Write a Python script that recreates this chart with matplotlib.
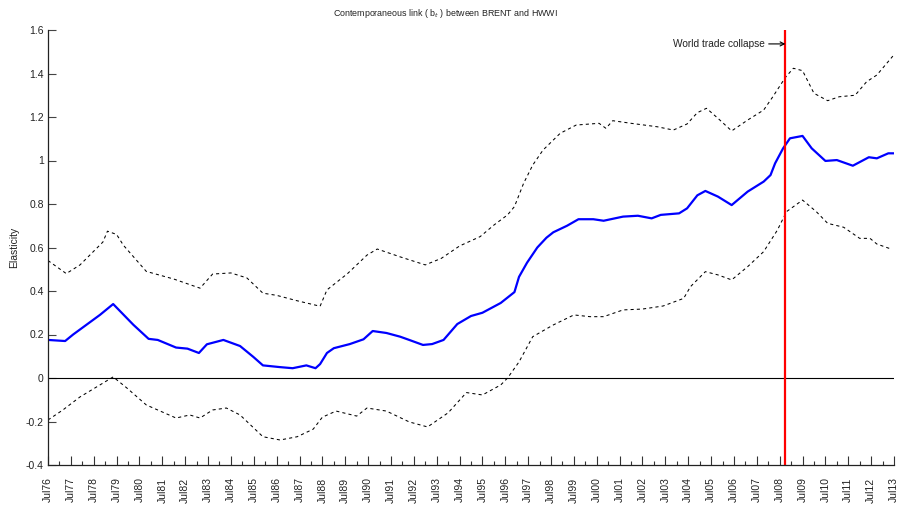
import numpy as np
import matplotlib
matplotlib.use("Agg")
import matplotlib.pyplot as plt
from matplotlib.ticker import FixedLocator

plt.rcParams['font.family'] = ['Liberation Sans', 'DejaVu Sans']

# Dates as decimal years (Jul76 = 1976.5)
blue_dates = [1976.50, 1977.25, 1977.60, 1978.77, 1979.35, 1980.23, 1980.90, 1981.30,
              1982.10, 1982.60, 1983.10, 1983.45, 1984.17, 1984.90, 1985.48, 1985.90,
              1986.65, 1987.20, 1987.80, 1988.20, 1988.40, 1988.70, 1989.00, 1989.70,
              1990.30, 1990.70, 1991.30, 1991.90, 1992.30, 1992.90, 1993.30, 1993.80,
              1994.40, 1995.00, 1995.50, 1996.30, 1996.90, 1997.10, 1997.45, 1997.90,
              1998.30, 1998.60, 1999.20, 1999.70, 2000.35, 2000.80, 2001.65, 2002.30,
              2002.90, 2003.30, 2004.10, 2004.45, 2004.90, 2005.25, 2005.80, 2006.40,
              2007.10, 2007.80, 2008.10, 2008.30, 2008.65, 2008.95, 2009.50, 2009.90,
              2010.50, 2011.00, 2011.70, 2012.40, 2012.75, 2013.25, 2013.50]
blue_vals = [0.175, 0.170, 0.200, 0.290, 0.340, 0.245, 0.180, 0.175,
             0.140, 0.135, 0.115, 0.155, 0.175, 0.147, 0.097, 0.058,
             0.050, 0.045, 0.058, 0.045, 0.064, 0.115, 0.137, 0.156,
             0.178, 0.216, 0.207, 0.190, 0.175, 0.152, 0.156, 0.175,
             0.248, 0.285, 0.300, 0.345, 0.395, 0.465, 0.530, 0.600,
             0.645, 0.670, 0.700, 0.730, 0.730, 0.723, 0.742, 0.746,
             0.734, 0.750, 0.757, 0.780, 0.840, 0.860, 0.834, 0.795,
             0.857, 0.903, 0.933, 0.987, 1.056, 1.102, 1.113, 1.056,
             0.998, 1.002, 0.976, 1.015, 1.010, 1.033, 1.033]

upper_dates = [1976.50, 1977.30, 1977.90, 1978.90, 1979.10, 1979.50, 1979.80, 1980.80,
               1982.00, 1983.15, 1983.70, 1984.50, 1985.20, 1985.90, 1986.50, 1987.40,
               1988.40, 1988.70, 1989.60, 1990.45, 1990.90, 1991.90, 1993.00, 1993.70,
               1994.50, 1995.40, 1996.00, 1996.60, 1996.90, 1997.30, 1997.70, 1998.15,
               1998.90, 1999.60, 2000.60, 2000.90, 2001.20, 2002.00, 2003.15, 2003.85,
               2004.45, 2004.90, 2005.30, 2005.80, 2006.40, 2007.10, 2007.80, 2008.20,
               2008.75, 2009.10, 2009.50, 2010.00, 2010.60, 2011.10, 2011.80, 2012.30,
               2012.75, 2013.45]
upper_vals = [0.540, 0.480, 0.520, 0.625, 0.675, 0.660, 0.610, 0.490,
              0.455, 0.413, 0.478, 0.483, 0.460, 0.390, 0.380, 0.355,
              0.330, 0.405, 0.480, 0.565, 0.593, 0.557, 0.520, 0.550,
              0.607, 0.650, 0.703, 0.750, 0.788, 0.895, 0.979, 1.048,
              1.125, 1.163, 1.171, 1.148, 1.183, 1.171, 1.155, 1.140,
              1.168, 1.220, 1.240, 1.194, 1.136, 1.186, 1.232, 1.293,
              1.382, 1.424, 1.413, 1.309, 1.275, 1.293, 1.300, 1.362,
              1.393, 1.480]

lower_dates = [1976.50, 1977.15, 1977.90, 1978.77, 1979.35, 1979.95, 1980.80, 1982.10,
               1982.70, 1983.15, 1983.70, 1984.30, 1984.90, 1985.90, 1986.65, 1987.40,
               1988.10, 1988.50, 1989.10, 1990.00, 1990.45, 1991.30, 1992.30, 1993.10,
               1994.00, 1994.80, 1995.50, 1996.30, 1996.60, 1997.10, 1997.70, 1998.60,
               1999.50, 2000.20, 2000.80, 2001.65, 2002.50, 2003.40, 2004.30, 2004.60,
               2005.25, 2005.80, 2006.40, 2007.10, 2007.80, 2008.40, 2008.80, 2009.50,
               2010.10, 2010.60, 2011.30, 2012.00, 2012.45, 2012.75, 2013.40]
lower_vals = [-0.193, -0.147, -0.087, -0.032, 0.005, -0.046, -0.124, -0.184,
              -0.170, -0.184, -0.147, -0.138, -0.170, -0.270, -0.285, -0.270,
              -0.235, -0.180, -0.152, -0.175, -0.138, -0.152, -0.202, -0.225,
              -0.160, -0.067, -0.078, -0.032, 0.000, 0.074, 0.190, 0.244,
              0.290, 0.282, 0.282, 0.313, 0.317, 0.331, 0.366, 0.420,
              0.489, 0.474, 0.451, 0.512, 0.581, 0.680, 0.765, 0.818,
              0.765, 0.711, 0.693, 0.642, 0.642, 0.616, 0.592]

collapse_date = 2008.75
tick_years = list(range(1976, 2014))
tick_labels = ["Jul%02d" % (y % 100) for y in tick_years]
y_ticks = [-0.4, -0.2, 0, 0.2, 0.4, 0.6, 0.8, 1, 1.2, 1.4, 1.6]
y_labels = ["-0.4", "-0.2", "0", "0.2", "0.4", "0.6", "0.8", "1", "1.2", "1.4", "1.6"]

fig = plt.figure(figsize=(9.0, 5.08), dpi=100)
ax = fig.add_axes([48/900, 1-465/508, (894-48)/900, (465-30)/508])

ax.plot(upper_dates, upper_vals, color='black', lw=0.75, linestyle=(0, (3, 3)))
ax.plot(lower_dates, lower_vals, color='black', lw=0.75, linestyle=(0, (3, 3)))
ax.plot(blue_dates, blue_vals, color='#0000ff', lw=1.6)
ax.axhline(0, color='black', lw=0.8)
ax.axvline(collapse_date, color='red', lw=1.6)

ax.set_xlim(1976.5, 2013.5)
ax.set_ylim(-0.4, 1.6)

ax.xaxis.set_major_locator(FixedLocator([y + 0.5 for y in tick_years]))
ax.set_xticklabels(tick_labels, rotation=90, fontsize=7.5)
ax.xaxis.set_minor_locator(FixedLocator([y + 1.0 for y in tick_years[:-1]]))
ax.tick_params(axis='x', which='major', direction='in', length=6.5, width=0.8, pad=9, colors='#333333', labelcolor='#222222')
ax.tick_params(axis='x', which='minor', direction='in', length=3, width=0.8, colors='#333333')

ax.set_yticks(y_ticks)
ax.set_yticklabels(y_labels, fontsize=7.5)
ax.tick_params(axis='y', which='major', direction='in', length=6, width=0.8, pad=3, colors='#444444', labelcolor='#222222')

for s in ['top', 'right']:
    ax.spines[s].set_visible(False)
for s in ['left', 'bottom']:
    ax.spines[s].set_color('#222222')
    ax.spines[s].set_linewidth(0.9)

ax.set_ylabel('Elasticity', fontsize=7.5, labelpad=5, color='#222222')
fig.text(445/900, 1-13/508, 'Contemporaneous link ( b$_t$ ) between BRENT and HWWI',
         fontsize=6.4, ha='center', va='center', color='#222222')

ax.annotate('World trade collapse', xy=(collapse_date, 1.536), xytext=(-15, 0),
            textcoords='offset points', ha='right', va='center', fontsize=7.3,
            color='#222222',
            arrowprops=dict(arrowstyle='->', color='black', lw=0.8, shrinkA=1, shrinkB=0))

fig.savefig('out.png', dpi=100)
